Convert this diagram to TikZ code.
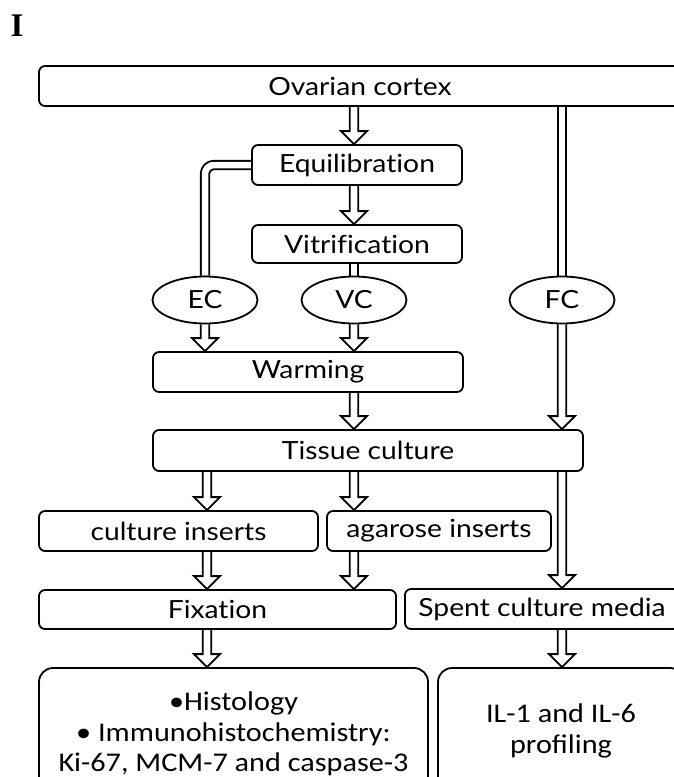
\documentclass[tikz,border=0pt]{standalone}
\usepackage{fontspec}
\setmainfont{Lato}[FakeStretch=1.13, Ligatures=NoCommon]
\newfontfamily\carl{Carlito}[FakeStretch=1.12]
\newfontfamily\serifb{Liberation Serif}
\usetikzlibrary{calc,shapes.geometric}
\pgfdeclarelayer{background}
\pgfsetlayers{background,main}
\tikzset{
  box/.style={draw, fill=white, line width=1.8pt, rounded corners=6pt, inner sep=0pt, align=center,
    font=\fontsize{25}{30}\selectfont},
  cbox/.style={box, font={\carl\fontsize{27}{30.5}\selectfont}},
  oval/.style={draw, fill=white, ellipse, line width=1.8pt, inner sep=0pt,
    minimum width=105pt, minimum height=47pt, font=\fontsize{25}{30}\selectfont},
  dline/.style={draw, line width=1.9pt, double distance=6.5pt, double=white},
  arr/.style={draw, line width=1.9pt, line join=miter},
}
\newcommand\barr[2]{\draw[arr] let \p1=(#1), \p2=(#2) in
  (\x1-4.25pt,\y1) -- (\x1-4.25pt,\y2+13pt) -- (\x1-13pt,\y2+13pt) -- (\x1,\y2)
  -- (\x1+13pt,\y2+13pt) -- (\x1+4.25pt,\y2+13pt) -- (\x1+4.25pt,\y1);}
\begin{document}
\begin{tikzpicture}[x=1pt,y=-1pt]
\clip (0,0) rectangle (674,777);
% label
\node[font={\serifb\bfseries\fontsize{33}{36}\selectfont}, inner sep=0pt] (lab) at (17,26) {I};
% columns
\coordinate (cL) at (207,0);
\coordinate (cM) at (354,0);
\coordinate (cR) at (562,0);
% nodes
\node[box, minimum width=642pt, minimum height=40pt] (ov) at (360,86) {Ovarian cortex};
\node[box, minimum width=210pt, minimum height=40pt] (eq) at (357,165) {Equilibration};
\node[box, minimum width=210pt, minimum height=38pt] (vit) at (357,244) {Vitrification};
\node[oval] (ec) at (205,300) {EC};
\node[oval] (vc) at (354,300) {VC};
\node[oval] (fc) at (562,300) {FC};
\node[box, minimum width=310pt, minimum height=40pt] (warm) at (308,372) {Warming};
\node[box, minimum width=430pt, minimum height=41pt] (tc) at (368,450.5) {Tissue culture};
\node[box, minimum width=279pt, minimum height=40pt] (ci) at (178.5,531) {culture inserts};
\node[box, minimum width=224pt, minimum height=40pt] (ag) at (439,531) {agarose inserts};
\node[box, minimum width=357pt, minimum height=39pt] (fix) at (217.5,609.5) {Fixation};
\node[box, minimum width=274pt, minimum height=40pt] (sp) at (542,609) {Spent culture media};
\node[cbox, rounded corners=14pt, minimum width=389pt, minimum height=132pt] (r1) at (233.5,734)
  {•Histology\\• Immunohistochemistry:\\Ki-67, MCM-7 and caspase-3};
\node[cbox, rounded corners=14pt, minimum width=246pt, minimum height=126pt] (r2) at (561,731)
  {IL-1 and IL-6\\profiling};
% connectors
\begin{pgfonlayer}{background}
\fill[white] (0,0) rectangle (674,777);
\draw[dline] (ov.south -| fc.north) -- (fc.north);
\draw[dline] (vit.south -| vc.north) -- (vc.north);
\draw[dline, rounded corners=9pt] (eq.west) -| (ec.north);
\barr{ov.south -| cM}{eq.north -| cM}
\barr{eq.south -| cM}{vit.north -| cM}
\barr{ec.south}{warm.north -| ec.south}
\barr{vc.south}{warm.north -| vc.south}
\barr{warm.south -| cM}{tc.north -| cM}
\barr{fc.south}{tc.north -| fc.south}
\barr{tc.south -| cL}{ci.north -| cL}
\barr{tc.south -| cM}{ag.north -| cM}
\barr{tc.south -| cR}{sp.north -| cR}
\barr{ci.south -| cL}{fix.north -| cL}
\barr{ag.south -| cM}{fix.north -| cM}
\barr{fix.south -| cL}{r1.north -| cL}
\barr{sp.south -| cR}{r2.north -| cR}
\end{pgfonlayer}
\end{tikzpicture}
\end{document}
